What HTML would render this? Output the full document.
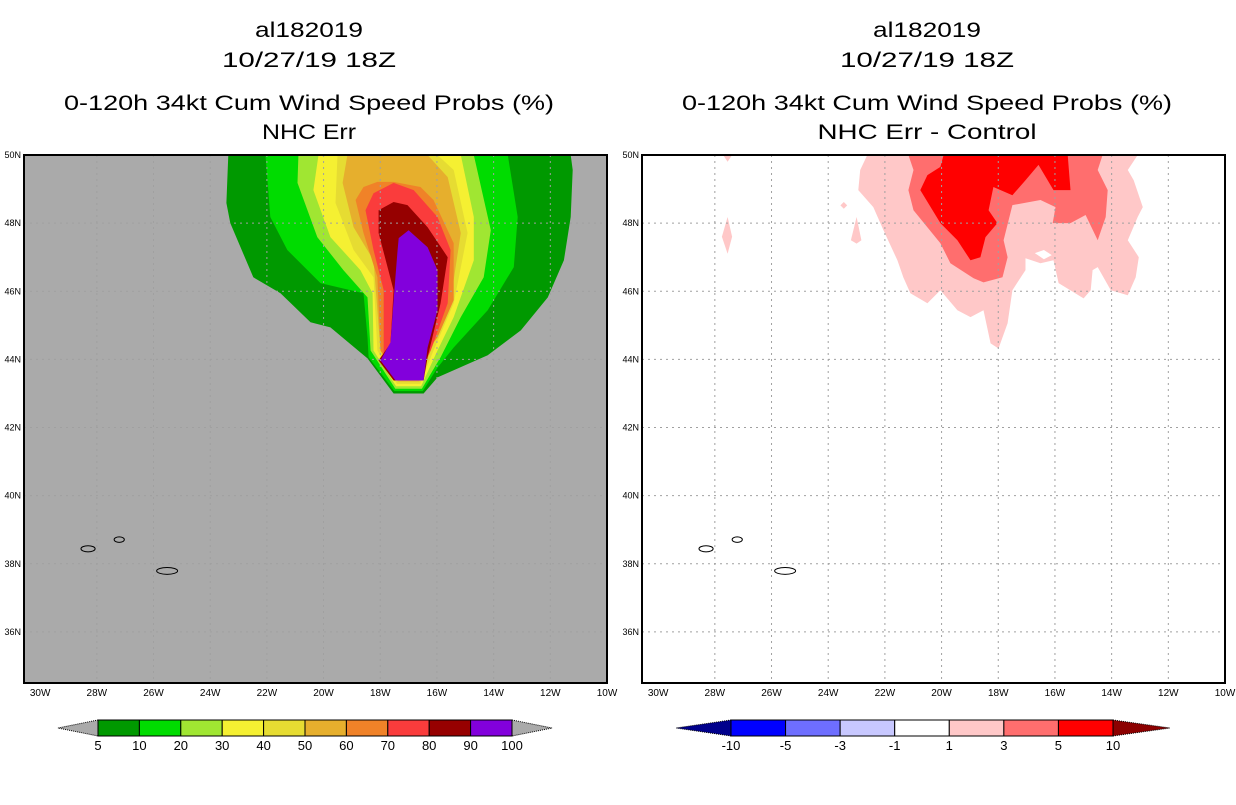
<!DOCTYPE html>
<html><head><meta charset="utf-8"><style>
body{margin:0;background:#fff;width:1236px;height:800px;overflow:hidden}
svg text{font-family:"Liberation Sans",sans-serif}
</style></head><body>
<svg id="c" width="1236" height="800" xmlns="http://www.w3.org/2000/svg"></svg>
<script>
const lonTicks=[-30,-28,-26,-24,-22,-20,-18,-16,-14,-12,-10];
const latTicks=[36,38,40,42,44,46,48,50];
const leftLevels=[5,10,20,30,40,50,60,70,80,90,100];
const leftColors=['#009900','#00dc00','#a0e632','#f5f032','#e6dc32','#e6af2d','#f08228','#fa3c3c','#960000','#8200dc'];
const rightLevels=[-10,-5,-3,-1,1,3,5,10];
const rightColors=['#0000ff','#6e6eff','#c8c8ff','#ffffff','#ffc8c8','#ff6e6e','#ff0000'];
const L5=[[-23.36,50],[-23.43,48.59],[-23.29,48],[-22.48,46.41],[-21.52,45.94],[-20.46,45.09],[-19.76,44.94],[-18.45,44.03],[-17.53,43.0],[-16.47,43.0],[-15.98,43.47],[-15.41,43.68],[-14.21,44.12],[-13.04,44.85],[-12.09,45.82],[-11.52,46.91],[-11.28,48.18],[-11.21,49.56],[-11.28,50]];
const L10=[[-22.05,50],[-21.88,48.18],[-21.28,47.21],[-20.11,46.24],[-18.59,45.94],[-18.45,44.65],[-18.41,44.06],[-17.50,43.07],[-16.50,43.07],[-15.98,43.76],[-15.41,44.35],[-14.21,45.44],[-13.29,46.71],[-13.15,48.18],[-13.50,50]];
const L20=[[-20.89,50],[-20.92,49.18],[-20.22,47.59],[-19.30,46.62],[-18.45,45.82],[-18.34,44.26],[-17.47,43.14],[-16.53,43.14],[-15.87,44.06],[-15.16,45.24],[-14.35,46.41],[-14.10,47.79],[-14.70,50]];
const L30=[[-20.18,50],[-20.36,48.97],[-19.76,47.59],[-18.70,46.62],[-18.27,45.94],[-18.24,44.26],[-17.44,43.21],[-16.56,43.21],[-15.98,44.26],[-15.41,45.24],[-14.70,46.91],[-14.70,48.18],[-15.16,50]];
const L40=[[-19.51,50],[-19.58,48.59],[-18.94,47.21],[-18.24,46.41],[-18.10,44.26],[-17.41,43.28],[-16.59,43.28],[-16.12,44.26],[-15.41,45.65],[-14.92,47.71],[-15.41,49.56],[-15.98,50]];
const L50=[[-19.16,50],[-19.33,49.18],[-18.94,47.88],[-18.24,46.91],[-17.99,44.26],[-17.38,43.35],[-16.62,43.35],[-16.22,44.26],[-15.52,45.74],[-15.16,47.71],[-15.62,49.35],[-16.33,50]];
const L60=[[-18.59,49.06],[-18.10,49.21],[-17.53,49.21],[-16.58,49.06],[-16.12,48.68],[-15.41,47.41],[-15.41,45.74],[-15.98,44.65],[-16.33,44.26],[-16.65,43.42],[-17.35,43.42],[-17.99,44.26],[-18.10,46.41],[-18.59,47.71],[-18.87,48.68]];
const L70=[[-18.24,48.88],[-17.53,49.18],[-16.82,48.97],[-15.98,48.18],[-15.52,47.21],[-15.62,45.65],[-16.22,44.26],[-16.68,43.49],[-17.32,43.49],[-17.88,44.18],[-17.88,46.03],[-18.24,47.21],[-18.52,48.38]];
const L80=[[-18.06,48.38],[-17.53,48.62],[-17.04,48.53],[-16.33,47.88],[-15.62,47.0],[-15.87,45.65],[-16.33,44.06],[-16.47,43.38],[-17.53,43.38],[-18.06,43.97],[-17.64,44.47],[-17.53,46.03],[-18.06,47.71]];
const L90=[[-17.35,47.56],[-17.00,47.79],[-16.33,47.29],[-15.98,46.62],[-15.98,45.44],[-16.33,44.35],[-16.47,43.38],[-17.46,43.38],[-17.99,43.97],[-17.64,44.50],[-17.53,45.74],[-17.39,47.21]];
const R1=[[-22.62,50],[-22.87,49.56],[-22.94,48.97],[-22.41,48.47],[-22.05,47.79],[-21.56,46.91],[-21.35,46.41],[-21.10,45.94],[-20.50,45.65],[-20.04,46.03],[-19.44,45.44],[-18.98,45.24],[-18.52,45.44],[-18.27,44.47],[-17.99,44.32],[-17.67,45.06],[-17.50,46.03],[-17.04,46.62],[-17.04,46.97],[-16.51,46.82],[-16.05,46.91],[-15.87,46.24],[-14.99,45.79],[-14.74,46.03],[-14.67,46.62],[-14.49,46.71],[-14.03,46.03],[-13.43,45.88],[-13.15,46.41],[-13.04,47.0],[-13.43,47.5],[-13.08,48.18],[-12.90,48.47],[-13.22,49.26],[-13.43,49.56],[-13.08,50]];
const R1hole=[[-16.71,47.12],[-16.39,47.21],[-16.11,47.06],[-16.39,46.94]];
const R1a=[[-27.71,50],[-27.39,50],[-27.55,49.8]];
const R1b=[[-27.55,48.18],[-27.39,47.6],[-27.55,47.1],[-27.75,47.6]];
const R1c=[[-23.57,48.52],[-23.45,48.62],[-23.33,48.52],[-23.45,48.42]];
const R1d=[[-23.0,48.18],[-22.83,47.5],[-23.0,47.4],[-23.2,47.5]];
const R3=[[-21.17,50],[-20.99,49.56],[-21.17,48.97],[-20.99,48.38],[-20.04,47.41],[-19.69,46.82],[-18.87,46.38],[-18.52,46.26],[-17.85,46.41],[-17.67,47.0],[-17.81,47.5],[-17.50,48.53],[-16.51,48.68],[-15.98,48.47],[-16.08,48.0],[-15.45,48.0],[-14.92,48.24],[-14.49,47.5],[-14.21,48.18],[-14.14,48.97],[-14.49,49.56],[-14.32,50]];
const R5=[[-19.93,50],[-20.04,49.65],[-20.50,49.41],[-20.75,48.97],[-20.04,48.0],[-19.44,47.5],[-18.98,46.91],[-18.63,47.0],[-18.45,47.59],[-18.03,48.0],[-18.34,48.38],[-18.17,49.06],[-17.50,48.82],[-17.04,49.26],[-16.58,49.71],[-16.05,48.97],[-15.45,48.97],[-15.55,50]];
const islands=[[-28.31,38.44,0.25,0.09],[-27.21,38.71,0.18,0.08],[-25.52,37.79,0.37,0.1]];

const NS='http://www.w3.org/2000/svg';
const svg=document.getElementById('c');
function el(t,a,p){const e=document.createElementNS(NS,t);for(const k in a)e.setAttribute(k,a[k]);(p||svg).appendChild(e);return e;}
const W=583,H=528,LON0=-30.57,LON1=-10,LAT0=34.5,LAT1=50;
function panel(x0,y0,name){
  const g=el('g',{});
  
  
  const sx=v=>x0+(v-LON0)/(LON1-LON0)*W, sy=v=>y0+(LAT1-v)/(LAT1-LAT0)*H;
  return {g,sx,sy,x0,y0};
}
function poly(P,pts,fill,name){
  const e=el('polygon',{points:pts.map(p=>P.sx(p[0]).toFixed(1)+','+P.sy(p[1]).toFixed(1)).join(' '),fill:fill},P.g);
  
  
}
function frame(P,bg,contours){
  const cl='clip'+P.x0;
  const d=el('defs',{},P.g);el('rect',{id:cl,x:P.x0,y:P.y0,width:W,height:H},el('clipPath',{id:cl},d));
  const bgr=el('rect',{x:P.x0,y:P.y0,width:W,height:H,fill:bg},P.g);
  
  
  const inner=el('g',{'clip-path':'url(#'+cl+')'},P.g);
  const Q={g:inner,sx:P.sx,sy:P.sy};
  contours(Q);
  lonTicks.forEach(v=>{const x=P.sx(v);
    if(v>-30&&v<-10){const l=el('line',{x1:x,x2:x,y1:P.y0,y2:P.y0+H,stroke:'#a0a0a0','stroke-dasharray':'2,4'},inner);
      }
    const t=el('text',{x:x,y:P.y0+H+13,'font-size':'10','text-anchor':'middle',fill:'#000'},P.g);t.textContent=(-v)+'W';
    
  });
  latTicks.forEach(v=>{const y=P.sy(v);
    if(v<50){const l=el('line',{x1:P.x0,x2:P.x0+W,y1:y,y2:y,stroke:'#a0a0a0','stroke-dasharray':'2,4'},inner);
      }
    const t=el('text',{x:P.x0-3,y:y+3,'font-size':'9','text-anchor':'end',fill:'#000'},P.g);t.textContent=v+'N';
    
  });
  islands.forEach(i=>{const e=el('ellipse',{cx:P.sx(i[0]),cy:P.sy(i[1]),rx:i[2]*W/(LON1-LON0),ry:i[3]*H/(LAT1-LAT0),fill:'none',stroke:'#000','stroke-width':1},inner);
    });
  const f=el('rect',{x:P.x0,y:P.y0,width:W,height:H,fill:'none',stroke:'#000','stroke-width':2},P.g);
  
}
function titles(cx,lines,widths){
  const ys=[37,67,110,139];
  lines.forEach((s,i)=>{const t=el('text',{x:cx,y:ys[i],'font-size':'21','text-anchor':'middle',fill:'#000',textLength:widths[i],lengthAdjust:'spacingAndGlyphs'});t.textContent=s;
    });
}
function colorbar(x0,x1,tl,tr,levels,colors,lc,rc,name){
  const g=el('g',{});
  const y0=720,y1=736,n=colors.length,w=(x1-x0)/n;
  el('polygon',{points:`${x0},${y0} ${tl},${(y0+y1)/2} ${x0},${y1}`,fill:lc,stroke:'#000','stroke-dasharray':'1,1'},g);
  el('polygon',{points:`${x1},${y0} ${tr},${(y0+y1)/2} ${x1},${y1}`,fill:rc,stroke:'#000','stroke-dasharray':'1,1'},g);
  colors.forEach((c,i)=>{const r=el('rect',{x:x0+i*w,y:y0,width:w,height:y1-y0,fill:c,stroke:'#000'},g);
    });
  levels.forEach((v,i)=>{const t=el('text',{x:x0+i*w,y:750,'font-size':'13','text-anchor':'middle',fill:'#000'},g);t.textContent=v;
    });
}
const PL=panel(24,155,'left-map-panel');
frame(PL,'#aaaaaa',Q=>{[L5,L10,L20,L30,L40,L50,L60,L70,L80,L90].forEach((p,i)=>poly(Q,p,leftColors[i],'prob-contour-'+leftLevels[i]));});
const PR=panel(642,155,'right-map-panel');
frame(PR,'#ffffff',Q=>{[R1,R1a,R1b,R1c,R1d].forEach(p=>poly(Q,p,rightColors[4],'diff-contour-1'));
  poly(Q,R1hole,'#ffffff','diff-hole');poly(Q,R3,rightColors[5],'diff-contour-3');poly(Q,R5,rightColors[6],'diff-contour-5');});
titles(309,['al182019','10/27/19 18Z','0-120h 34kt Cum Wind Speed Probs (%)','NHC Err'],[108,174,490,94]);
titles(927,['al182019','10/27/19 18Z','0-120h 34kt Cum Wind Speed Probs (%)','NHC Err - Control'],[108,174,490,219]);
colorbar(98,512,58,552,leftLevels,leftColors,'#aaaaaa','#aaaaaa','left-colorbar');
colorbar(731,1113,676,1170,rightLevels,rightColors,'#00008c','#8c0000','right-colorbar');
</script>
</body></html>
